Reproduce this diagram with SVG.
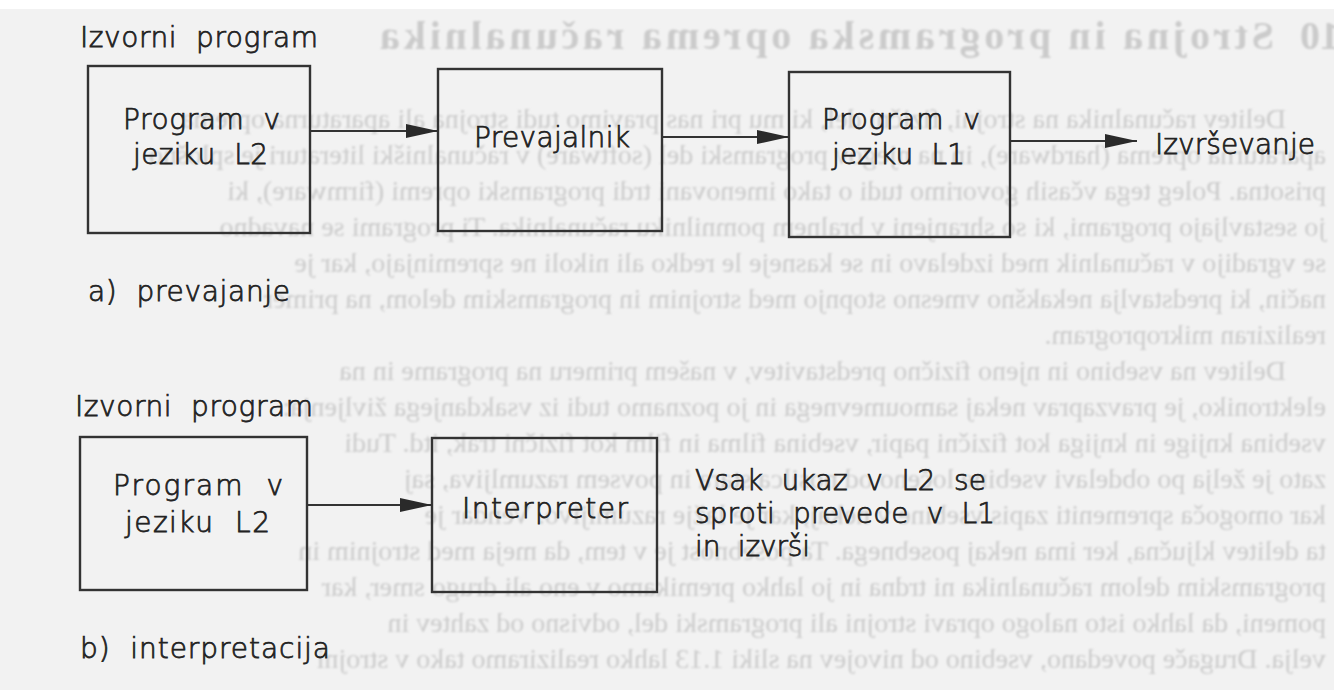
<svg xmlns="http://www.w3.org/2000/svg" width="1334" height="690" viewBox="0 0 1334 690">
  <defs>
    <style>
      .page { fill: #f2f2f2; }
      .ghost { font-family: "Liberation Serif", serif; font-size: 28px; fill: #cbcbcb; }
      .ghost-title { font-family: "Liberation Serif", serif; font-size: 40px; font-weight: bold; fill: #cbcbcb; }
      .box { fill: none; stroke: #333333; stroke-width: 2.4; }
      .lbl { font-family: "DejaVu Sans", "Liberation Sans", sans-serif; font-size: 28px; font-weight: 300; fill: #222222; stroke: #222222; stroke-width: 0.75; }
      .edge { stroke: #333333; stroke-width: 2.2; fill: none; marker-end: url(#head); }
    </style>
    <marker id="head" markerUnits="userSpaceOnUse" markerWidth="32" markerHeight="14" refX="32" refY="7" orient="auto">
      <path d="M0,0 L32,7 L0,14 Z" fill="#2a2a2a"/>
    </marker>
    <filter id="soft" x="-5%" y="-5%" width="110%" height="110%">
      <feGaussianBlur stdDeviation="0.9"/>
    </filter>
  </defs>

  <!-- paper -->
  <rect class="page" x="0" y="0" width="1334" height="690"/>
  <rect x="0" y="0" width="1334" height="9" fill="#ffffff"/>

  <!-- print from the reverse side of the sheet, seen through the paper (mirrored) -->
  <g id="reverse-side" filter="url(#soft)" transform="matrix(-1 0 0 1 1334 0)">
    <text class="ghost-title" x="-36" y="49">1.10</text>
    <text class="ghost-title" x="60" y="49" textLength="894" lengthAdjust="spacing">Strojna in programska oprema računalnika</text>
    <text class="ghost" x="48" y="128">Delitev računalnika na strojni, fizični del, ki mu pri nas pravimo tudi strojna ali aparaturna oprema</text>
    <text class="ghost" x="8" y="164">aparaturna oprema (hardware), in na njegov programski del (software) v računalniški literaturi je splošno</text>
    <text class="ghost" x="8" y="200">prisotna. Poleg tega včasih govorimo tudi o tako imenovani trdi programski opremi (firmware), ki</text>
    <text class="ghost" x="8" y="236">jo sestavljajo programi, ki so shranjeni v bralnem pomnilniku računalnika. Ti programi se navadno</text>
    <text class="ghost" x="8" y="272">se vgradijo v računalnik med izdelavo in se kasneje le redko ali nikoli ne spreminjajo, kar je</text>
    <text class="ghost" x="8" y="308">način, ki predstavlja nekakšno vmesno stopnjo med strojnim in programskim delom, na primer</text>
    <text class="ghost" x="8" y="344">realiziran mikroprogram.</text>
    <text class="ghost" x="48" y="380">Delitev na vsebino in njeno fizično predstavitev, v našem primeru na programe in na</text>
    <text class="ghost" x="8" y="416">elektroniko, je pravzaprav nekaj samoumevnega in jo poznamo tudi iz vsakdanjega življenja:</text>
    <text class="ghost" x="8" y="452">vsebina knjige in knjiga kot fizični papir, vsebina filma in film kot fizični trak, itd. Tudi</text>
    <text class="ghost" x="8" y="488">zato je želja po obdelavi vsebine ločeno od nosilca stara in povsem razumljiva, saj</text>
    <text class="ghost" x="8" y="524">kar omogoča spremeniti zapis vsebine v nekaj, kar je lažje razumljivo. Vendar je</text>
    <text class="ghost" x="8" y="560">ta delitev ključna, ker ima nekaj posebnega. Ta posebnost je v tem, da meja med strojnim in</text>
    <text class="ghost" x="8" y="596">programskim delom računalnika ni trdna in jo lahko premikamo v eno ali drugo smer, kar</text>
    <text class="ghost" x="8" y="632">pomeni, da lahko isto nalogo opravi strojni ali programski del, odvisno od zahtev in</text>
    <text class="ghost" x="8" y="668">velja. Drugače povedano, vsebino od nivojev na sliki 1.13 lahko realiziramo tako v strojni</text>
  </g>

  <!-- a) compilation -->
  <g id="a-source-label">
    <text class="lbl" xml:space="preserve" x="80" y="47" textLength="238" lengthAdjust="spacing">Izvorni  program</text>
  </g>
  <g id="a-program-l2">
    <rect class="box" x="88" y="66" width="222" height="167"/>
    <text class="lbl" xml:space="preserve" x="123" y="129" textLength="157" lengthAdjust="spacing">Program  v</text>
    <text class="lbl" xml:space="preserve" x="133" y="164" textLength="135" lengthAdjust="spacing">jeziku  L2</text>
  </g>
  <g id="a-compiler">
    <rect class="box" x="438" y="69" width="224" height="162"/>
    <text class="lbl" x="474" y="147" textLength="156" lengthAdjust="spacing">Prevajalnik</text>
  </g>
  <g id="a-program-l1">
    <rect class="box" x="789" y="72" width="221" height="165"/>
    <text class="lbl" xml:space="preserve" x="822" y="129" textLength="158" lengthAdjust="spacing">Program  v</text>
    <text class="lbl" xml:space="preserve" x="832" y="164" textLength="133" lengthAdjust="spacing">jeziku  L1</text>
  </g>
  <g id="a-execution">
    <text class="lbl" x="1155" y="154" textLength="160" lengthAdjust="spacing">Izvrševanje</text>
  </g>
  <g id="a-caption">
    <text class="lbl" xml:space="preserve" x="88" y="301" textLength="202" lengthAdjust="spacing">a)  prevajanje</text>
  </g>

  <!-- b) interpretation -->
  <g id="b-source-label">
    <text class="lbl" xml:space="preserve" x="75" y="416" textLength="238" lengthAdjust="spacing">Izvorni  program</text>
  </g>
  <g id="b-program-l2">
    <rect class="box" x="80" y="437" width="227" height="153"/>
    <text class="lbl" xml:space="preserve" x="113" y="495" textLength="170" lengthAdjust="spacing">Program  v</text>
    <text class="lbl" xml:space="preserve" x="125" y="532" textLength="145" lengthAdjust="spacing">jeziku  L2</text>
  </g>
  <g id="b-interpreter">
    <rect class="box" x="432" y="438" width="225" height="154"/>
    <text class="lbl" x="462" y="518" textLength="166" lengthAdjust="spacing">Interpreter</text>
  </g>
  <g id="b-note">
    <text class="lbl" xml:space="preserve" x="695" y="490" textLength="291" lengthAdjust="spacing">Vsak  ukaz  v  L2  se</text>
    <text class="lbl" xml:space="preserve" x="695" y="523" textLength="300" lengthAdjust="spacing">sproti  prevede  v  L1</text>
    <text class="lbl" xml:space="preserve" x="695" y="556" textLength="115" lengthAdjust="spacing">in  izvrši</text>
  </g>
  <g id="b-caption">
    <text class="lbl" xml:space="preserve" x="80" y="658" textLength="250" lengthAdjust="spacing">b)  interpretacija</text>
  </g>

  <!-- connectors -->
  <g id="connectors">
    <line class="edge" x1="310" y1="131" x2="438" y2="131"/>
    <line class="edge" x1="662" y1="137" x2="789" y2="137"/>
    <line class="edge" x1="1010" y1="141" x2="1137" y2="141"/>
    <line class="edge" x1="307" y1="505" x2="432" y2="505"/>
  </g>
</svg>
